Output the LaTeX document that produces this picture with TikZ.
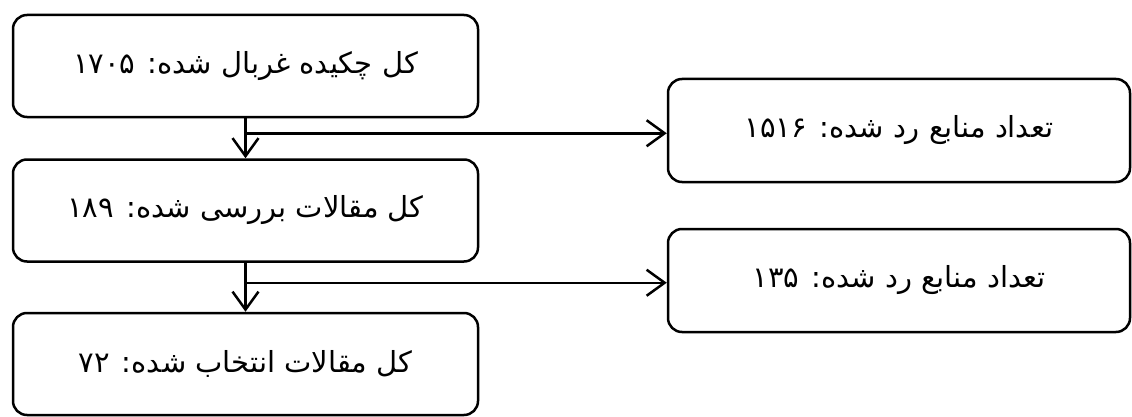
\documentclass[tikz,border=0pt]{standalone}
\usepackage{fontspec}
\newfontfamily\arabicfont[Script=Arabic]{DejaVu Sans}
\TeXXeTstate=1
\usetikzlibrary{arrows.meta}
\tikzstyle{stage}=[draw, line width=2.5pt, rounded corners=14pt, minimum width=465pt, minimum height=102pt, inner sep=0pt, font=\arabicfont\fontsize{29}{33}\selectfont]
\tikzstyle{dropped}=[stage, minimum width=462pt, minimum height=103pt]
\providecommand{\stage}{\node[stage]}
\providecommand{\dropped}{\node[dropped]}

\begin{document}
\begin{tikzpicture}[x=1pt, y=1pt,
    every edge/.style={
        draw, line width=2.5pt,
        -{Straight Barb[length=18pt,width=26pt]}
        }
]
\useasboundingbox (0,0) rectangle (1132,416);
\stage (screened) at (245.5,350) {\beginR کل چکیده غربال شده: ۱۷۰۵\endR};
\stage (reviewed) at (245.5,205.5) {\beginR کل مقالات بررسی شده: ۱۸۹\endR};
\stage (selected) at (245.5,52) {\beginR کل مقالات انتخاب شده: ۷۲\endR};
\dropped (droppedA) at (899,285.5) {\beginR تعداد منابع رد شده: ۱۵۱۶\endR};
\dropped (droppedB) at (899,135.5) {\beginR تعداد منابع رد شده: ۱۳۵\endR};
\coordinate (splitA) at ([yshift=-15pt]screened.south);
\coordinate (splitB) at ([yshift=-20pt]reviewed.south);
\path
(screened) edge (reviewed)
(reviewed) edge (selected)
(splitA) edge (splitA -| droppedA.west)
(splitB) edge (splitB -| droppedB.west)
;
\end{tikzpicture}
\end{document}
